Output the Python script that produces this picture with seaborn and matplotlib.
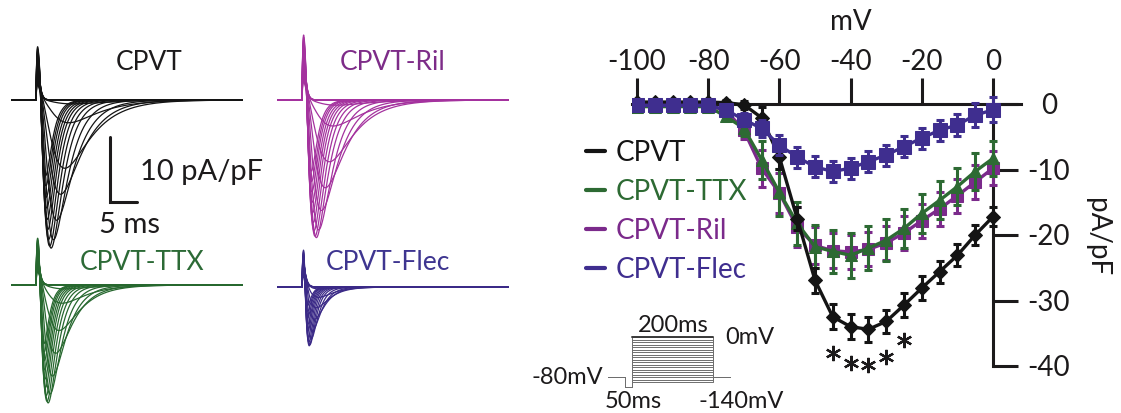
import numpy as np
import pandas as pd
import matplotlib.pyplot as plt
import seaborn as sns
from matplotlib.lines import Line2D

sns.set_style("white")
plt.rcParams["font.family"] = ["Lato", "DejaVu Sans"]
plt.rcParams["axes.unicode_minus"] = False

W, H = 1121, 413
INK = "#1c1a1b"

# =====================================
# I-V DATA (mV vs pA/pF)
# =====================================

voltages = [-100, -95, -90, -85, -80, -75, -70, -65, -60, -55, -50,
            -45, -40, -35, -30, -25, -20, -15, -10, -5, 0]

cpvt_mean = [0.3, 0.3, 0.3, 0.3, 0.3, 0.2, -0.1, -2.1, -8.1, -17.5, -26.9,
             -32.5, -34.0, -34.4, -33.2, -30.7, -28.1, -25.6, -23.1, -20.0, -17.2]
cpvt_sem = [0.3, 0.3, 0.3, 0.3, 0.3, 0.4, 0.6, 1.6, 1.8, 1.8, 1.9,
            1.9, 1.9, 1.9, 1.8, 1.8, 1.8, 1.7, 1.7, 1.6, 1.5]

ttx_mean = [-0.4, -0.4, -0.4, -0.4, -0.4, -1.9, -3.7, -8.5, -13.5, -18.2, -21.8,
            -22.5, -23.1, -22.0, -20.8, -19.0, -16.7, -14.7, -12.6, -10.3, -8.3]
ttx_sem = [0.3, 0.3, 0.3, 0.3, 0.3, 0.6, 1.2, 2.9, 3.6, 3.3, 3.3,
           3.3, 3.4, 3.3, 3.2, 3.0, 3.0, 2.9, 2.8, 2.8, 2.7]

ril_mean = [-0.2, -0.2, -0.2, -0.2, -0.2, -1.0, -4.0, -9.8, -13.6, -18.8, -21.6,
            -22.4, -22.6, -22.2, -21.2, -19.7, -17.8, -16.0, -14.0, -11.9, -9.8]
ril_sem = [0.3, 0.3, 0.3, 0.3, 0.3, 0.5, 1.3, 2.8, 3.0, 3.0, 2.8,
           2.7, 2.6, 2.6, 2.6, 2.6, 2.6, 2.6, 2.6, 2.6, 2.6]

flec_mean = [-0.2, -0.2, -0.2, -0.2, -0.2, -0.9, -2.4, -3.7, -6.3, -8.1, -9.6,
             -10.3, -9.8, -8.8, -7.8, -6.5, -5.2, -4.0, -3.2, -1.7, -0.9]
flec_sem = [0.5, 0.5, 0.5, 0.5, 0.5, 0.6, 1.0, 1.3, 1.5, 1.6, 1.6,
            1.6, 1.6, 1.6, 1.6, 1.6, 1.6, 1.6, 1.7, 1.8, 1.9]

sig_mV = [-45, -40, -35, -30, -25]

x_ticks = [-100, -80, -60, -40, -20, 0]
y_ticks = [0, -10, -20, -30, -40]

# =====================================
# CURRENT TRACES (peak per step, pA/pF)
# =====================================

cpvt_peak = [0, 0, 0, 0, 0, 0, -0.6, -3.5, -10.5, -14.5, -18.5,
             -21.5, -22.8, -22.5, -21.5, -20.0, -18.5, -16.8, -15.2, -13.5, -12.0]
ril_peak = [0, 0, 0, 0, 0, 0, -0.8, -4.0, -9.5, -13.5, -17.0,
            -20.0, -21.2, -21.0, -20.2, -19.0, -17.5, -16.0, -14.5, -13.0, -11.5]
ttx_peak = [0, 0, 0, 0, 0, 0, -0.6, -2.8, -7.0, -10.5, -14.0,
            -16.8, -18.2, -18.0, -17.2, -16.0, -14.8, -13.5, -12.2, -11.0, -9.8]
flec_peak = [0, 0, 0, 0, 0, 0, -0.3, -1.6, -3.2, -5.0, -6.8,
             -8.3, -9.3, -9.7, -9.4, -8.8, -8.0, -7.2, -6.4, -5.6, -4.8]

# activation / inactivation time constants (ms) per step
tau_m = [3, 3, 3, 3, 3, 3, 3.4, 3.0, 2.6, 2.2, 1.8,
         1.5, 1.25, 1.1, 1.0, 0.92, 0.85, 0.8, 0.75, 0.7, 0.66]
tau_h = [5, 5, 5, 5, 5, 5, 6.0, 5.4, 4.7, 3.9, 3.2,
         2.6, 2.2, 1.95, 1.75, 1.6, 1.5, 1.4, 1.3, 1.25, 1.2]

# voltage protocol
hold_mV = -80
pre_mV = -100
step_mV = voltages[2:]
proto_t = [-60, -17, -17, 0, 0, 200, 200, 243]

colors = {
    "CPVT": "#141414",
    "CPVT-TTX": "#2d6a33",
    "CPVT-Ril": "#7b2a8b",
    "CPVT-Flec": "#3f2e8f",
}
trace_colors = {
    "CPVT": "#141414",
    "CPVT-Ril": "#a4329e",
    "CPVT-TTX": "#27682f",
    "CPVT-Flec": "#3b2a87",
}


def px_axes(fig, x0, x1, y_top, y_bot):
    return fig.add_axes([x0 / W, 1 - y_bot / H, (x1 - x0) / W, (y_bot - y_top) / H])


def make_trace(t, amp, tm, th, speed, spike, v):
    tt = np.clip(t - 0.5 * speed, 0, None)
    shape = (1 - np.exp(-tt / (tm * speed))) ** 3 * np.exp(-tt / (th * speed))
    shape = shape / shape.max()
    ts = np.clip(t, 0, None)
    cap = spike * (v + 140) / 140 * (ts / 0.3) * np.exp(1 - ts / 0.3)
    return amp * shape + cap


fig = plt.figure(figsize=(W / 100, H / 100), dpi=100)

# =====================================
# LEFT: CURRENT FAMILIES
# =====================================

T0, T1 = -4.6, 38.3
PX_MS, PX_I = 5.4, 6.5
t = np.linspace(T0, T1, 2500)

panels = [
    # name, peaks, speed, spike, step px, baseline px, ylo, label pos
    ("CPVT", cpvt_peak, 1.0, 8.2, 36, 100, -24, (20.9, 5.8)),
    ("CPVT-Ril", ril_peak, 0.95, 10.0, 302, 100, -24, (16.7, 5.7)),
    ("CPVT-TTX", ttx_peak, 0.8, 7.2, 36, 285, -19, (19.6, 3.4)),
    ("CPVT-Flec", flec_peak, 0.5, 5.7, 302, 287, -19, (15.9, 3.8)),
]
label_colors = {"CPVT": INK, "CPVT-Ril": "#7d2c88",
                "CPVT-TTX": "#2c6a36", "CPVT-Flec": "#3e3590"}

trace_axes = {}
for name, peaks, speed, spike, sx, by, ylo, lab in panels:
    yhi = 11
    ax = px_axes(fig, sx + T0 * PX_MS, sx + T1 * PX_MS, by - yhi * PX_I, by - ylo * PX_I)
    ax.set_facecolor("none")
    rows = []
    for v, a, tm, th in zip(voltages, peaks, tau_m, tau_h):
        cur = make_trace(t, a, tm, th, speed, spike, v)
        rows.append(pd.DataFrame({"t": t, "I": cur, "mV": v}))
    df = pd.concat(rows, ignore_index=True)
    sns.lineplot(data=df, x="t", y="I", units="mV", estimator=None,
                 color=trace_colors[name], lw=0.9, ax=ax, legend=False)
    ax.set_xlim(T0, T1)
    ax.set_ylim(ylo, yhi)
    ax.axis("off")
    ax.text(lab[0], lab[1], name, ha="center", va="center", fontsize=19,
            color=label_colors[name])
    trace_axes[name] = ax

# scale bar
ax = trace_axes["CPVT"]
sb_t, sb_i = 13.7, -5.7
ax.plot([sb_t, sb_t, sb_t + 5], [sb_i, sb_i - 10, sb_i - 10], color=INK, lw=2.2,
        clip_on=False, solid_joinstyle="miter")
ax.text(19.3, -11.1, "10 pA/pF", ha="left", va="center", fontsize=21, color=INK, clip_on=False)
ax.text(17.4, -19.2, "5 ms", ha="center", va="center", fontsize=21, color=INK)

# =====================================
# RIGHT: I-V CURVE
# =====================================

PX_MV, PX_PA = 3.56, 6.55
X0, Y0 = 993, 104
xlim = (-101.5, 8)
ylim = (-42, 4)
ax = px_axes(fig, X0 + xlim[0] * PX_MV, X0 + xlim[1] * PX_MV,
             Y0 - ylim[1] * PX_PA, Y0 - ylim[0] * PX_PA)
ax.set_facecolor("none")

groups = [
    ("CPVT-Ril", ril_mean, ril_sem, "s", 8),
    ("CPVT-TTX", ttx_mean, ttx_sem, "^", 9),
    ("CPVT", cpvt_mean, cpvt_sem, "D", 7),
    ("CPVT-Flec", flec_mean, flec_sem, "s", 9.5),
]
for z, (name, mean, sem, mk, ms) in enumerate(groups):
    c = colors[name]
    ax.errorbar(voltages, mean, yerr=sem, fmt="none", ecolor=c, elinewidth=2.2,
                capsize=3.2, capthick=2.2, zorder=3 + 2 * z)
    d = pd.DataFrame({"mV": voltages, "I": mean})
    sns.lineplot(data=d, x="mV", y="I", color=c, lw=2.4, marker=mk, markersize=ms,
                 markeredgecolor=c, ax=ax, zorder=4 + 2 * z)

# significance asterisks
sig_idx = [voltages.index(v) for v in sig_mV]
sig_y = [cpvt_mean[i] - cpvt_sem[i] - 3.6 for i in sig_idx]
ax.plot(sig_mV, sig_y, ls="none", marker=(6, 2, 0), markersize=11, mew=1.6,
        color=INK, clip_on=False)

ax.set_xlim(*xlim)
ax.set_ylim(*ylim)
ax.set_xlabel("")
ax.set_ylabel("")
ax.spines["left"].set_visible(False)
ax.spines["bottom"].set_visible(False)
ax.spines["top"].set_position(("data", 0))
ax.spines["right"].set_position(("data", 0))
ax.spines["right"].set_bounds(-40, 0)
for s in ("top", "right"):
    ax.spines[s].set_linewidth(2.2)
    ax.spines[s].set_color(INK)
ax.xaxis.tick_top()
ax.yaxis.tick_right()
ax.set_xticks(x_ticks)
ax.set_yticks(y_ticks)
ax.tick_params(axis="x", direction="out", length=18.7, width=2.2, pad=2,
               labelsize=20, colors=INK)
ax.tick_params(axis="y", direction="out", length=18, width=2.2, pad=22.3,
               labelsize=20, colors=INK)
for lbl in ax.get_yticklabels():
    lbl.set_ha("center")
ax.text(-40, 12.5, "mV", ha="center", va="center", fontsize=20, color=INK, clip_on=False)
ax.text(29.2, -20.3, "pA/pF", ha="center", va="center", rotation=-90, fontsize=20,
        color=INK, clip_on=False)

legend_names = ["CPVT", "CPVT-TTX", "CPVT-Ril", "CPVT-Flec"]
handles = [Line2D([], [], color=colors[n], lw=3) for n in legend_names]
ax.legend(handles, legend_names, loc="upper left", bbox_to_anchor=(586 / W, 1 - 140 / H),
          bbox_transform=fig.transFigure, frameon=False, fontsize=20, handlelength=0.7,
          handletextpad=0.35, labelspacing=0.47, borderpad=0, borderaxespad=0,
          labelcolor="linecolor")

# =====================================
# PROTOCOL INSET
# =====================================

PX_T, PX_V = 0.405, 0.5
PX0, PY0 = 632, 337
txlim = (-62, 245)
tylim = (-104, 3)
axp = px_axes(fig, PX0 + txlim[0] * PX_T, PX0 + txlim[1] * PX_T,
              PY0 - tylim[1] * PX_V, PY0 - tylim[0] * PX_V)
axp.set_facecolor("none")
for v in step_mV:
    y = [hold_mV, hold_mV, pre_mV, pre_mV, v, v, hold_mV, hold_mV]
    axp.plot(proto_t, y, color="#6e6e6e", lw=0.7)
axp.plot(proto_t[4:6], [step_mV[-1]] * 2, color="#3a3a3a", lw=1.4)
axp.set_xlim(*txlim)
axp.set_ylim(*tylim)
axp.axis("off")
axp.text(-71.6, hold_mV, "-80mV", ha="right", va="center", fontsize=17, color=INK, clip_on=False)
axp.text(101, 22, "200ms", ha="center", va="center", fontsize=17, color=INK, clip_on=False)
axp.text(229.6, 0, "0mV", ha="left", va="center", fontsize=17, color=INK, clip_on=False)
axp.text(2, -128, "50ms", ha="center", va="center", fontsize=17, color=INK, clip_on=False)
axp.text(269, -128, "-140mV", ha="center", va="center", fontsize=17, color=INK, clip_on=False)

fig.savefig("out.png", dpi=100)
